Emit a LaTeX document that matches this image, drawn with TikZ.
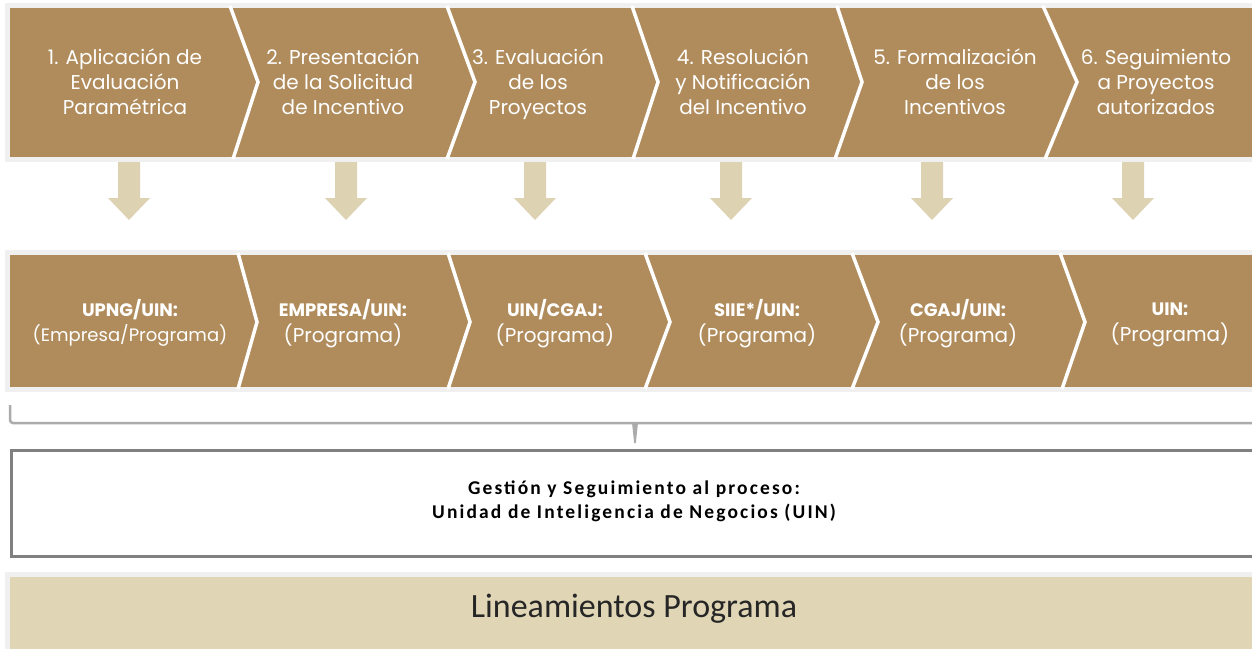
\documentclass[tikz,border=0pt]{standalone}
\usepackage{fontspec}
\setmainfont{Poppins}
\newfontfamily\calib{Carlito}
\newfontfamily\calibsp[LetterSpace=11]{Carlito}
\definecolor{brownc}{HTML}{B08C5C}
\definecolor{tanc}{HTML}{DDD3B3}
\definecolor{bandc}{HTML}{E0D6B6}
\definecolor{framec}{HTML}{F0F0F0}
\definecolor{bracec}{HTML}{ABABAB}
\definecolor{boxc}{HTML}{808080}
\tikzset{
  steptext/.style={text=white, align=center, font=\fontsize{20}{25}\selectfont, inner sep=0pt},
  roletext/.style={text=white, align=center, inner sep=0pt},
  sepline/.style={white, line width=3.5pt, line join=miter},
  downarrow/.style={fill=tanc, draw=none},
}
\newcommand{\rb}[1]{{\fontsize{18}{22}\selectfont\bfseries\strut #1}}
\newcommand{\rp}[1]{{\fontsize{20}{22}\selectfont\strut #1}}
\begin{document}
\begin{tikzpicture}[x=1pt,y=-1pt]
\useasboundingbox (0,0) rectangle (1252,649);
% frames
\fill[framec] (5,3) rectangle (1252,162);
\fill[framec] (5,250) rectangle (1252,392);
\fill[framec] (5,572) rectangle (1252,649);
% top row
\fill[brownc] (10,8) rectangle (1252,157);
\foreach \a/\b/\c in {230/258/233, 447/475/447, 632/658/633, 837/862/835, 1043/1077/1045}
  \draw[sepline] (\a,6) -- (\b,82) -- (\c,159);
% second row
\fill[brownc] (10,255) rectangle (1252,387);
\foreach \a/\b/\c in {238/257/238, 448/470/448, 645/670/645, 852/878/852, 1060/1085/1062}
  \draw[sepline] (\a,253) -- (\b,322) -- (\c,389);
% step texts
\node[steptext] (t1) at (125,84) {\strut 1. Aplicación de\\\strut Evaluación\\\strut Paramétrica};
\node[steptext] (t2) at (343,84) {\strut 2. Presentación\\\strut de la Solicitud\\\strut de Incentivo};
\node[steptext] (t3) at (538,84) {\strut 3. Evaluación\\\strut de los\\\strut Proyectos};
\node[steptext] (t4) at (743,84) {\strut 4. Resolución\\\strut y Notificación\\\strut del Incentivo};
\node[steptext] (t5) at (955,84) {\strut 5. Formalización\\\strut de los\\\strut Incentivos};
\node[steptext] (t6) at (1156,84) {\strut 6. Seguimiento\\\strut a Proyectos\\\strut autorizados};
% role texts
\node[roletext] (r1) at (130,324) {\rb{UPNG/UIN:}\\{\fontsize{18}{22}\selectfont\strut (Empresa/Programa)}};
\node[roletext] (r2) at (343,324) {\rb{EMPRESA/UIN:}\\\rp{(Programa)}};
\node[roletext] (r3) at (555,324) {\rb{UIN/CGAJ:}\\\rp{(Programa)}};
\node[roletext] (r4) at (757,324) {\rb{SIIE*/UIN:}\\\rp{(Programa)}};
\node[roletext] (r5) at (958,324) {\rb{CGAJ/UIN:}\\\rp{(Programa)}};
\node[roletext] (r6) at (1170,324) {\rb{UIN:}\\\rp{(Programa)}};
% down arrows
\foreach \x in {129,346,535,731,932,1133}
  \fill[downarrow] (\x-11,162) -- (\x+11,162) -- (\x+11,198) -- (\x+21,198) -- (\x,220) -- (\x-21,198) -- (\x-11,198) -- cycle;
% brace
\coordinate (bl) at (10,405);
\coordinate (br) at (1252,423);
\draw[bracec, line width=2.5pt, rounded corners=3pt] (bl) -- (10,423) -- (br);
\fill[bracec] (632,423) -- (638,423) -- (635.8,443) -- (634.2,443) -- cycle;
% management box
\node[draw=boxc, line width=2.5pt, fill=white, minimum width=1250pt, minimum height=106pt, anchor=north west, inner sep=0pt] (box) at (10,449) {};
\node[align=center, font=\calibsp\bfseries\fontsize{19.5}{24}\selectfont, inner sep=0pt] (gest) at (634,502) {\strut Gestión y Seguimiento al proceso:\\\strut Unidad de Inteligencia de Negocios (UIN)};
% band
\fill[bandc] (10,577) rectangle (1252,649);
\node[font=\calib\fontsize{34}{36}\selectfont, text=black!85, inner sep=0pt] (lin) at (634,609) {Lineamientos Programa};
\end{tikzpicture}
\end{document}
